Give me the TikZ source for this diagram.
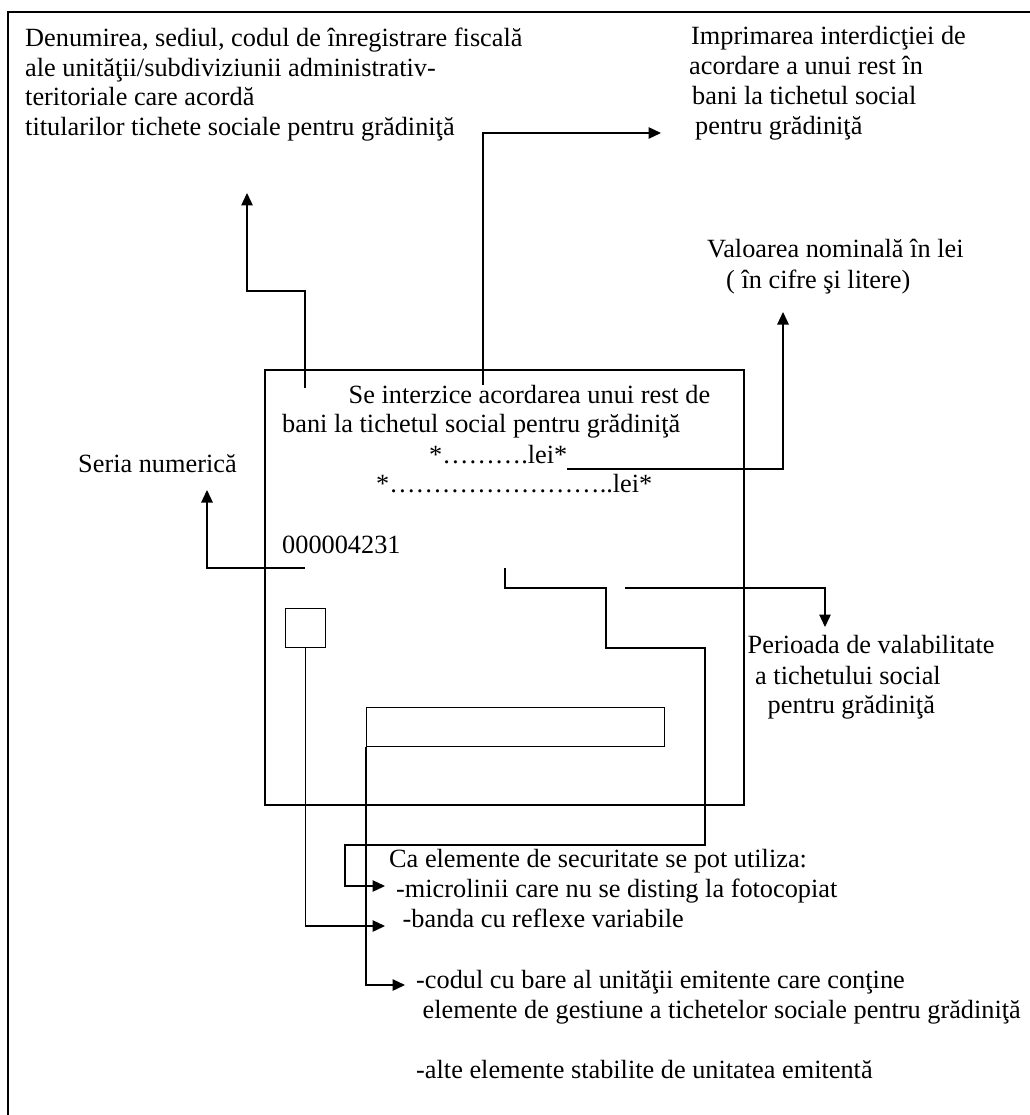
\documentclass[tikz,border=0pt]{standalone}
\usepackage{fontspec}
\setmainfont{Liberation Serif}
\usetikzlibrary{arrows.meta}
\newcommand\mainfs{\fontsize{26.3pt}{30pt}\selectfont}
\begin{document}
\begin{tikzpicture}[x=1pt,y=-1pt,
  lbl/.style={anchor=base west, inner sep=0pt, font=\mainfs},
  conn/.style={line width=1.3pt},
  arr/.style={conn, -{Triangle[length=12.5pt,width=11.5pt]}},
  box/.style={line width=1.3pt}]
\useasboundingbox (0,0) rectangle (1029,1115);
% outer frame (runs off the page right and bottom)
\draw[line width=1.5pt] (8,1130) -- (8,12) -- (1040,12);
% ticket card and its elements
\draw[box] (265,370) rectangle (744,805);
\node[box, draw, inner sep=0pt, minimum width=40pt, minimum height=39pt, anchor=north west] (sq) at (285,608) {};
\node[box, draw, inner sep=0pt, minimum width=298pt, minimum height=39pt, anchor=north west] (bar) at (366,707) {};
% texts outside the card
\node[lbl] (den1) at (25,46.7) {Denumirea, sediul, codul de înregistrare fiscală};
\node[lbl] (den2) at (25,76.5) {ale unităţii/subdiviziunii administrativ-};
\node[lbl] (den3) at (25,106) {teritoriale care acordă};
\node[lbl] (den4) at (25,136) {titularilor tichete sociale pentru grădiniţă};
\node[lbl] (imp1) at (691,45) {Imprimarea interdicţiei de};
\node[lbl] (imp2) at (689,75) {acordare a unui rest în};
\node[lbl] (imp3) at (692,105) {bani la tichetul social};
\node[lbl] (imp4) at (695,135) {pentru grădiniţă};
\node[lbl] (val1) at (707,258) {Valoarea nominală în lei};
\node[lbl] (val2) at (726,288) {( în cifre şi litere)};
\node[lbl] (seria) at (78,472) {Seria numerică};
\node[lbl] (per1) at (747.5,653) {Perioada de valabilitate};
\node[lbl] (per2) at (755,684) {a tichetului social};
\node[lbl] (per3) at (767.5,713) {pentru grădiniţă};
\node[lbl] (sec0) at (389,867) {Ca elemente de securitate se pot utiliza:};
\node[lbl] (sec1) at (396,897) {-microlinii care nu se disting la fotocopiat};
\node[lbl] (sec2) at (402.5,927) {-banda cu reflexe variabile};
\node[lbl] (sec3) at (416,988) {-codul cu bare al unităţii emitente care conţine};
\node[lbl] (sec4) at (422.5,1018) {elemente de gestiune a tichetelor sociale pentru grădiniţă};
\node[lbl] (sec5) at (416,1078) {-alte elemente stabilite de unitatea emitentă};
% texts on the card
\node[lbl] (c1) at (348.5,403) {Se interzice acordarea unui rest de};
\node[lbl] (c2) at (282,432) {bani la tichetul social pentru grădiniţă};
\node[lbl] (c3) at (429,463) {*……….lei*};
\node[lbl] (c4) at (376,492) {*……………………..lei*};
\node[lbl] (c5) at (282,553) {000004231};
% connector end points
\coordinate (denSrc) at (305,388);
\coordinate (denTip) at (247,193);
\coordinate (impSrc) at (483,385);
\coordinate (impTip) at (661,133);
\coordinate (valTip) at (783,312);
\coordinate (serSrc) at (305,568);
\coordinate (serTip) at (207,490);
\coordinate (perSrc) at (625,588);
\coordinate (perTip) at (825,627);
\coordinate (micSrc) at (505,568);
\coordinate (micTip) at (385,886);
\coordinate (banTip) at (385,926);
\coordinate (codTip) at (405,985);
% connectors
\draw[arr] (denSrc) -- (305,291) -| (denTip);
\draw[arr] (impSrc) |- (impTip);
\draw[arr] (c3.base east) ++(0,6) -| (valTip);
\draw[arr] (serSrc) -| (serTip);
\draw[arr] (perSrc) -| (perTip);
\draw[arr] (micSrc) -- (505,588) -- (606,588) -- (606,648) -- (705,648) -- (705,845) -- (345,845) |- (micTip);
\draw[arr] (sq.south) |- (banTip);
\draw[arr] (bar.south west) |- (codTip);
\end{tikzpicture}
\end{document}
